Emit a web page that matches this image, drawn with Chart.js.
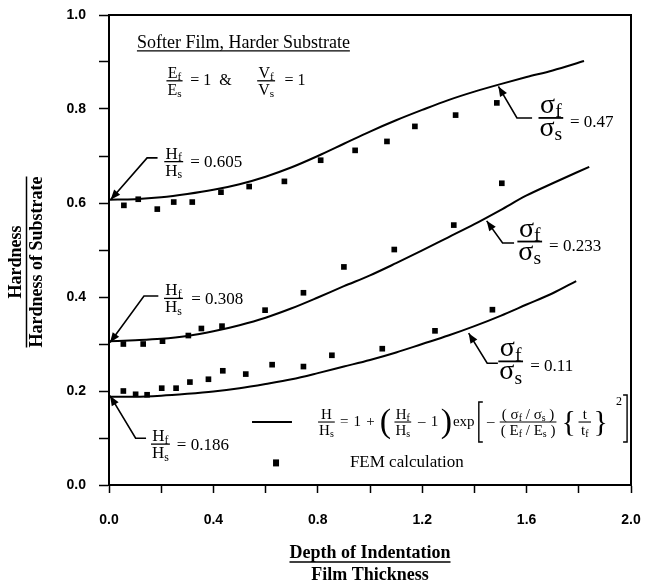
<!DOCTYPE html>
<html><head><meta charset="utf-8">
<script src="https://cdn.jsdelivr.net/npm/chart.js@4/dist/chart.umd.min.js"></script>
<style>html,body{margin:0;padding:0;background:#fff}#wrap{width:645px;height:583px;position:relative}</style>
</head><body><div id="wrap"><canvas id="c" width="645" height="583"></canvas></div>
<script>
// ---- data ----
const xTickLabels = ['0.0','0.4','0.8','1.2','1.6','2.0'];
const yTickLabels = ['0.0','0.2','0.4','0.6','0.8','1.0'];

const curve047X = [0,0.1,0.2,0.3,0.4,0.5,0.6,0.7,0.8,0.9,1.0,1.1,1.2,1.3,1.4,1.5,1.6,1.7,1.82];
const curve047Y = [0.607,0.608,0.612,0.619,0.628,0.640,0.656,0.676,0.700,0.726,0.752,0.776,0.798,0.819,0.837,0.853,0.868,0.882,0.902];

const curve0233X = [0,0.1,0.2,0.3,0.4,0.5,0.6,0.7,0.8,0.9,1.0,1.1,1.2,1.3,1.4,1.5,1.6,1.7,1.84];
const curve0233Y = [0.306,0.308,0.311,0.317,0.327,0.340,0.356,0.376,0.399,0.423,0.446,0.472,0.499,0.527,0.555,0.585,0.616,0.642,0.677];

const curve011X = [0,0.1,0.2,0.3,0.4,0.5,0.6,0.7,0.8,0.9,1.0,1.1,1.2,1.3,1.4,1.5,1.6,1.7,1.79];
const curve011Y = [0.188,0.188,0.190,0.194,0.199,0.206,0.215,0.225,0.238,0.252,0.266,0.282,0.300,0.318,0.338,0.360,0.384,0.408,0.434];

const fem047X = [0.057,0.112,0.185,0.248,0.319,0.429,0.537,0.672,0.811,0.943,1.065,1.172,1.328,1.486];
const fem047Y = [0.595,0.608,0.587,0.602,0.602,0.623,0.635,0.646,0.691,0.712,0.731,0.763,0.787,0.813];

const fem0233X = [0.055,0.131,0.205,0.304,0.354,0.433,0.598,0.745,0.900,1.093,1.321,1.505];
const fem0233Y = [0.300,0.300,0.306,0.318,0.333,0.338,0.372,0.409,0.464,0.501,0.553,0.642];

const fem011X = [0.055,0.102,0.146,0.202,0.257,0.310,0.381,0.436,0.524,0.625,0.745,0.854,1.047,1.249,1.469];
const fem011Y = [0.200,0.193,0.192,0.206,0.206,0.219,0.225,0.243,0.236,0.256,0.252,0.276,0.290,0.328,0.373];

const zip = (xs, ys) => xs.map((x, i) => ({x, y: ys[i]}));

// ---- drawing helpers ----
const SERIF = '"Liberation Serif","Times New Roman",serif';
const SANS = '"Liberation Sans",Arial,sans-serif';
const fnt = (sz, bold) => (bold ? 'bold ' : '') + sz + 'px ' + SERIF;

function richW(ctx, segs){ let w = 0; for (const s of segs){ ctx.font = s.f; w += ctx.measureText(s.t).width; } return w; }
function rich(ctx, x, y, segs){ for (const s of segs){ ctx.font = s.f; ctx.fillText(s.t, x, y + (s.dy || 0)); x += ctx.measureText(s.t).width; } return x; }
function fracW(ctx, num, den, o){ return Math.max(richW(ctx, num), richW(ctx, den)) + (o.ext || 2); }
function fracC(ctx, cx, cy, num, den, o){
  const wn = richW(ctx, num), wd = richW(ctx, den), w = Math.max(wn, wd) + (o.ext || 2);
  ctx.textBaseline = 'alphabetic'; ctx.textAlign = 'left';
  rich(ctx, cx - wn/2, cy - o.gn, num);
  rich(ctx, cx - wd/2, cy + o.gd, den);
  ctx.lineWidth = o.lw || 1.3;
  ctx.beginPath(); ctx.moveTo(cx - w/2, cy); ctx.lineTo(cx + w/2, cy); ctx.stroke();
  return cx + w/2;
}
function leader(ctx, tip, elbow, end){
  ctx.lineWidth = 1.6;
  ctx.beginPath(); ctx.moveTo(end[0], end[1]); ctx.lineTo(elbow[0], elbow[1]); ctx.lineTo(tip[0], tip[1]); ctx.stroke();
  const ang = Math.atan2(tip[1] - elbow[1], tip[0] - elbow[0]);
  const L = 10, W = 4;
  ctx.beginPath();
  ctx.moveTo(tip[0], tip[1]);
  ctx.lineTo(tip[0] - L*Math.cos(ang) + W*Math.sin(ang), tip[1] - L*Math.sin(ang) - W*Math.cos(ang));
  ctx.lineTo(tip[0] - L*Math.cos(ang) - W*Math.sin(ang), tip[1] - L*Math.sin(ang) + W*Math.cos(ang));
  ctx.closePath(); ctx.fill();
}

const annot = {
  id: 'annot',
  afterDraw(chart){
    const ctx = chart.ctx, a = chart.chartArea;
    const X = v => chart.scales.x.getPixelForValue(v);
    const Y = v => chart.scales.y.getPixelForValue(v);
    ctx.save();
    ctx.fillStyle = '#000'; ctx.strokeStyle = '#000';
    // box
    ctx.lineWidth = 2;
    ctx.beginPath(); ctx.moveTo(a.left, a.top); ctx.lineTo(a.right, a.top); ctx.lineTo(a.right, a.bottom); ctx.stroke();

    // title inside plot
    ctx.textBaseline = 'alphabetic'; ctx.textAlign = 'left';
    ctx.font = fnt(18);
    const t1 = 'Softer Film, Harder Substrate';
    const tx = X(0.107), ty = Y(0.930);
    ctx.fillText(t1, tx, ty);
    const tw = ctx.measureText(t1).width;
    ctx.lineWidth = 1.2; ctx.beginPath(); ctx.moveTo(tx, ty + 3); ctx.lineTo(tx + tw, ty + 3); ctx.stroke();

    const SUB = (ch, sub, sz) => [{t:ch, f:fnt(sz)}, {t:sub, f:fnt(sz*0.7), dy:sz*0.15}];
    const hOpt = {gn: 3, gd: 14, lw: 1.3};
    const sOpt = {gn: 5, gd: 18, lw: 1.8};

    // Ef/Es = 1 & Vf/Vs = 1
    fracC(ctx, X(0.251), Y(0.860), SUB('E','f',16), SUB('E','s',16), hOpt);
    ctx.textBaseline = 'middle'; ctx.font = fnt(16);
    ctx.fillText('= 1  &', X(0.311), Y(0.860));
    fracC(ctx, X(0.602), Y(0.860), SUB('V','f',16), SUB('V','s',16), hOpt);
    ctx.textBaseline = 'middle'; ctx.font = fnt(16);
    ctx.fillText('= 1', X(0.672), Y(0.860));

    // Hf/Hs labels
    const hLabel = (cx, cy, left, txt) => {
      fracC(ctx, X(cx), Y(cy), SUB('H','f',17), SUB('H','s',17), hOpt);
      ctx.textBaseline = 'middle'; ctx.font = fnt(17);
      ctx.fillText(txt, X(left), Y(cy) + 1);
    };
    hLabel(0.248, 0.688, 0.311, '= 0.605');
    hLabel(0.247, 0.397, 0.315, '= 0.308');
    hLabel(0.197, 0.087, 0.260, '= 0.186');

    // sigma labels
    const sLabel = (cx, cy, left, txt) => {
      fracC(ctx, X(cx), Y(cy), SUB('σ','f',28), SUB('σ','s',28), sOpt);
      ctx.textBaseline = 'middle'; ctx.font = fnt(17);
      ctx.fillText(txt, X(left), Y(cy) + 5);
    };
    sLabel(1.693, 0.781, 1.766, '= 0.47');
    sLabel(1.612, 0.518, 1.686, '= 0.233');
    sLabel(1.539, 0.263, 1.614, '= 0.11');

    // leaders with arrowheads
    const P = (x, y) => [X(x), Y(y)];
    leader(ctx, P(0.006, 0.607), P(0.146, 0.696), P(0.186, 0.696));
    leader(ctx, P(0.004, 0.303), P(0.134, 0.402), P(0.189, 0.402));
    leader(ctx, P(0.004, 0.190), P(0.102, 0.0995), P(0.142, 0.0995));
    leader(ctx, P(1.492, 0.848), P(1.563, 0.781), P(1.621, 0.781));
    leader(ctx, P(1.447, 0.562), P(1.508, 0.515), P(1.552, 0.515));
    leader(ctx, P(1.378, 0.323), P(1.449, 0.259), P(1.490, 0.259));

    // legend: line sample + formula, justified between its two ends in the picture
    const cy = Y(0.134);
    ctx.lineWidth = 2;
    ctx.beginPath(); ctx.moveTo(X(0.548), cy); ctx.lineTo(X(0.701), cy); ctx.stroke();
    const F = fnt(15), Fs = fnt(10), FB = fnt(34), FC = fnt(30);
    const S = (c, s) => [{t:c, f:F}, {t:s, f:Fs, dy:2}];
    const fOpt = {gn: 3, gd: 13, lw: 1.1};
    const tOpt = {gn: 3, gd: 13, lw: 1.1, ext: 5};
    const items = [
      {k:'f', num:[{t:'H', f:F}], den:S('H','s'), o:fOpt, g:0},
      {k:'t', s:'=', f:F, g:0.6},
      {k:'t', s:'1', f:F, g:0.6},
      {k:'t', s:'+', f:F, g:0.6},
      {k:'t', s:'(', f:FB, g:0.6, dy:1},
      {k:'f', num:S('H','f'), den:S('H','s'), o:fOpt, g:0.4},
      {k:'t', s:'\u2013', f:F, g:0.8},
      {k:'t', s:'1', f:F, g:0.6},
      {k:'t', s:')', f:FB, g:0.3, dy:1},
      {k:'t', s:'exp', f:F, g:0.1},
      {k:'lb', w:4, g:0.5},
      {k:'t', s:'\u2013', f:F, g:0.5},
      {k:'f', num:[{t:'( σ', f:F}, {t:'f', f:Fs, dy:2}, {t:' / σ', f:F}, {t:'s', f:Fs, dy:2}, {t:' )', f:F}],
             den:[{t:'( E', f:F}, {t:'f', f:Fs, dy:2}, {t:' / E', f:F}, {t:'s', f:Fs, dy:2}, {t:' )', f:F}], o:fOpt, g:0.6},
      {k:'t', s:'{', f:FC, g:0.6, dy:1},
      {k:'f', num:[{t:'t', f:F}], den:S('t','f'), o:tOpt, g:0.3},
      {k:'t', s:'}', f:FC, g:0.3, dy:1},
      {k:'rb', w:2, g:2.0}
    ];
    let total = 0, gsum = 0;
    for (const it of items){
      if (it.k === 'f') it.w = fracW(ctx, it.num, it.den, it.o);
      else if (it.k === 't'){ ctx.font = it.f; it.w = ctx.measureText(it.s).width; }
      total += it.w; gsum += it.g;
    }
    const x0 = X(0.801), x1 = X(1.985);
    const unit = Math.max(0, (x1 - x0 - total) / gsum);
    let x = x0;
    for (const it of items){
      x += it.g * unit;
      if (it.k === 'f') fracC(ctx, x + it.w/2, cy, it.num, it.den, it.o);
      else if (it.k === 't'){ ctx.textAlign = 'left'; ctx.textBaseline = 'middle'; ctx.font = it.f; ctx.fillText(it.s, x, cy + (it.dy || 0)); }
      else if (it.k === 'lb'){ ctx.lineWidth = 1.4; ctx.beginPath(); ctx.moveTo(x + 4, cy - 20); ctx.lineTo(x, cy - 20); ctx.lineTo(x, cy + 20); ctx.lineTo(x + 4, cy + 20); ctx.stroke(); }
      else if (it.k === 'rb'){
        const bx = x + 2;
        ctx.lineWidth = 1.4; ctx.beginPath(); ctx.moveTo(bx - 4, cy - 27); ctx.lineTo(bx, cy - 27); ctx.lineTo(bx, cy + 20); ctx.lineTo(bx - 4, cy + 20); ctx.stroke();
        ctx.font = fnt(12); ctx.textAlign = 'left'; ctx.textBaseline = 'alphabetic'; ctx.fillText('2', bx - 11, cy - 17);
      }
      x += it.w;
    }

    // FEM legend
    ctx.fillRect(X(0.640) - 3, Y(0.047) - 3.5, 6, 7);
    ctx.textAlign = 'left'; ctx.textBaseline = 'middle'; ctx.font = fnt(17);
    ctx.fillText('FEM calculation', X(0.923), Y(0.047));

    // axis titles
    ctx.font = fnt(18, true); ctx.textAlign = 'center'; ctx.textBaseline = 'alphabetic';
    const xc = X(1.0);
    ctx.fillText('Depth of Indentation', xc, 558);
    const dw = ctx.measureText('Depth of Indentation').width;
    ctx.lineWidth = 1.5; ctx.beginPath(); ctx.moveTo(xc - dw/2, 562); ctx.lineTo(xc + dw/2, 562); ctx.stroke();
    ctx.fillText('Film Thickness', xc, 580);

    ctx.save();
    ctx.translate(0, 262); ctx.rotate(-Math.PI/2);
    ctx.fillText('Hardness', 0, 21);
    const hw = ctx.measureText('Hardness of Substrate').width;
    ctx.lineWidth = 1.5; ctx.beginPath(); ctx.moveTo(-hw/2, 26.5); ctx.lineTo(hw/2, 26.5); ctx.stroke();
    ctx.fillText('Hardness of Substrate', 0, 42);
    ctx.restore();

    ctx.restore();
  }
};

const curveStyle = {showLine: true, pointRadius: 0, borderColor: '#000', borderWidth: 2, cubicInterpolationMode: 'monotone', fill: false};
const femStyle = {showLine: false, pointStyle: 'rect', pointRadius: 4, backgroundColor: '#000', borderColor: '#000', borderWidth: 0};

new Chart(document.getElementById('c'), {
  type: 'scatter',
  data: {
    datasets: [
      Object.assign({label: 'σf/σs = 0.47', data: zip(curve047X, curve047Y)}, curveStyle),
      Object.assign({label: 'σf/σs = 0.233', data: zip(curve0233X, curve0233Y)}, curveStyle),
      Object.assign({label: 'σf/σs = 0.11', data: zip(curve011X, curve011Y)}, curveStyle),
      Object.assign({label: 'FEM 0.47', data: zip(fem047X, fem047Y)}, femStyle),
      Object.assign({label: 'FEM 0.233', data: zip(fem0233X, fem0233Y)}, femStyle),
      Object.assign({label: 'FEM 0.11', data: zip(fem011X, fem011Y)}, femStyle)
    ]
  },
  options: {
    responsive: false, animation: false,
    layout: {padding: 0},
    plugins: {legend: {display: false}, tooltip: {enabled: false}},
    scales: {
      x: {
        type: 'linear', min: 0, max: 2,
        afterFit: s => { s.height = 98; s.paddingLeft = 0; s.paddingRight = 14; },
        border: {display: true, color: '#000', width: 2},
        grid: {drawOnChartArea: false, drawTicks: true, tickLength: 8, color: '#000', tickWidth: 1.5},
        ticks: {
          stepSize: 0.2, autoSkip: false, maxRotation: 0, padding: 19, color: '#000',
          font: {family: SANS, size: 14, weight: 'bold'},
          callback: v => { const k = Math.round(v * 10); return k % 4 === 0 ? xTickLabels[k / 4] : ''; }
        }
      },
      y: {
        type: 'linear', min: 0, max: 1,
        afterFit: s => { s.width = 109; s.paddingTop = 15; s.paddingBottom = 0; },
        border: {display: true, color: '#000', width: 2},
        grid: {drawOnChartArea: false, drawTicks: true, tickLength: 10, color: '#000', tickWidth: 1.5},
        ticks: {
          stepSize: 0.1, autoSkip: false, padding: 13, color: '#000',
          font: {family: SANS, size: 14, weight: 'bold'},
          callback: v => { const k = Math.round(v * 10); return k % 2 === 0 ? yTickLabels[k / 2] : ''; }
        }
      }
    }
  },
  plugins: [annot]
});
</script>
</body></html>
